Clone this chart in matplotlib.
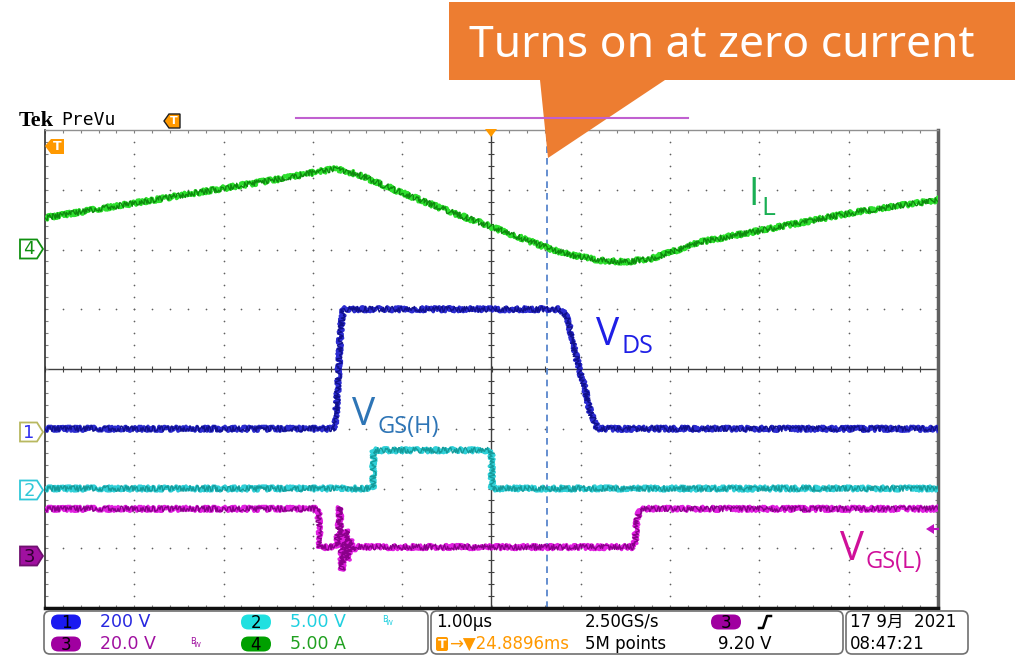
"""
Captura de osciloscopio (Tek PreVu): corrente no indutor, VDS e as
duas tensoes de gate, com o balao "Turns on at zero current".
"""

import numpy as np
import matplotlib.pyplot as plt
from matplotlib.patches import Polygon, FancyBboxPatch

plt.rcParams['font.family'] = ['DejaVu Sans', 'Noto Sans CJK JP']

# ---- dados lidos da tela (tempo em us, 1 us/div, trigger no centro) ----
t_il = [-5.0, -3.5, -2.3, -1.95, -1.75, -1.5, -1.02, -0.46, 0.0, 0.62,
        0.88, 1.22, 1.5, 1.8, 2.34, 4.02, 5.0]
il = [2.65, 4.5, 6.0, 6.5, 6.75, 6.3, 4.8, 3.15, 1.9, 0.15,
      -0.45, -0.9, -1.05, -0.75, 0.63, 3.05, 4.15]            # A

t_vds = [-5.0, -1.75, -1.72, -1.69, -1.66, 0.77, 0.83, 0.885, 0.92,
         0.985, 1.05, 1.11, 1.19, 5.0]
vds = [0, 0, 150, 330, 400, 400, 380, 330, 274, 200, 130, 52, 0, 0]  # V

t_vgsh = [-5.0, -1.33, -1.32, 0.0, 0.005, 5.0]
vgsh = [0, 0, 3.2, 3.2, 0, 0]                                    # V

t_vgsl = [-5.0, -1.94, -1.92, -1.74, -1.71, -1.70, -1.675, -1.62, -1.61,
          -1.58, -1.55, -1.5, 1.6, 1.63, 1.66, 5.0]
vgsl = [15.8, 15.8, 3.0, 3.0, 10.0, 16.4, -4.7, 8.7, -1.3,
        5.4, 2.0, 3.0, 3.0, 12.0, 15.8, 15.8]                    # V

# escala (unidade/div) e posicao do zero (div) de cada canal
ESCALA = {'1': 200.0, '2': 5.0, '3': 20.0, '4': 5.0}
ZERO = {'1': -1.0, '2': -2.0, '3': -3.13, '4': 2.0}

T_ZERO_CORRENTE = 0.616   # linha tracejada (us)

# cores dos canais (claro, escuro)
COR_CH = {
    '1': ('#2C2CD0', '#10108C'),
    '2': ('#30D0D8', '#159A9A'),
    '3': ('#E020E0', '#8A008A'),
    '4': ('#2EE02E', '#0E8A0E'),
}

W, H = 1015, 656
fig = plt.figure(figsize=(W / 100, H / 100), dpi=100)
fig.patch.set_facecolor('white')

# ---- graticula ----
x0, x1, y0, y1 = 45, 938, 130, 608
ax = fig.add_axes([x0 / W, (H - y1) / H, (x1 - x0) / W, (y1 - y0) / H])
ax.set_xlim(-5, 5)
ax.set_ylim(-4, 4)
ax.set_xticks(np.arange(-5, 5.001, 0.2))
ax.set_yticks(np.arange(-4, 4.001, 0.2))
ax.tick_params(direction='in', length=2.5, width=0.8, color='#808080',
               labelbottom=False, labelleft=False, top=True, right=True)
ax.spines['left'].set_color('#303030')
ax.spines['left'].set_linewidth(1.2)
ax.spines['top'].set_color('#909090')
ax.spines['top'].set_linewidth(1.0)
ax.spines['bottom'].set_color('#101010')
ax.spines['bottom'].set_linewidth(2.5)
ax.spines['right'].set_color('#606060')
ax.spines['right'].set_linewidth(2.5)

passo = np.arange(-5, 5.001, 0.2)
passo_y = np.arange(-4, 4.001, 0.2)
for xv in range(-4, 5):
    if xv != 0:
        ax.scatter(np.full(len(passo_y), xv), passo_y, s=1.5, color='#606060', lw=0, zorder=1)
for yv in range(-3, 4):
    if yv != 0:
        ax.scatter(passo, np.full(len(passo), yv), s=1.5, color='#606060', lw=0, zorder=1)

ax.axhline(0, color='#404040', lw=1.0, zorder=1)
ax.axvline(0, color='#404040', lw=1.0, zorder=1)
ax.plot(passo, np.zeros(len(passo)), ls='none', marker='|', ms=5, mew=0.8, color='#404040', zorder=1)
ax.plot(np.zeros(len(passo_y)), passo_y, ls='none', marker='_', ms=5, mew=0.8, color='#404040', zorder=1)

ax.axvline(T_ZERO_CORRENTE, color='#4A7CC8', lw=1.2, ls=(0, (4, 3)), zorder=2)


def desenhar_canal(t, valores, canal):
    """Desenha um traco do osciloscopio na escala do canal."""
    y = ZERO[canal] + np.asarray(valores, dtype=float) / ESCALA[canal]
    claro, escuro = COR_CH[canal]
    (linha_clara,) = ax.plot(t, y, color=claro, lw=2.6, zorder=3)
    linha_clara.set_sketch_params(2.4, 2.0, 5)
    (linha_escura,) = ax.plot(t, y, color=escuro, lw=1.0, zorder=4)
    linha_escura.set_sketch_params(2.8, 1.8, 5)


desenhar_canal(t_il, il, '4')
desenhar_canal(t_vgsl, vgsl, '3')
desenhar_canal(t_vgsh, vgsh, '2')
desenhar_canal(t_vds, vds, '1')

# ---- camada de anotacoes em pixels ----
ov = fig.add_axes([0, 0, 1, 1], zorder=5)
ov.set_xlim(0, W)
ov.set_ylim(H, 0)
ov.axis('off')
ov.patch.set_alpha(0)

# cabecalho Tek
ov.text(19, 126, 'Tek', fontsize=16, fontweight='bold', family='Liberation Serif', va='baseline')
ov.text(61, 125, 'PreVu', fontsize=13, family='DejaVu Sans Mono', va='baseline')
ov.add_patch(Polygon([(164, 121), (169, 114), (180, 114), (180, 128), (169, 128)],
                     closed=True, fc='#FF9900', ec='#202020', lw=1))
ov.text(174, 121.5, 'T', color='white', fontsize=8, fontweight='bold', ha='center', va='center')
ov.plot([296, 688], [118, 118], color='#C060D0', lw=1.5)
ov.add_patch(Polygon([(485, 129), (497, 129), (491, 137)], closed=True, fc='#FF9900', ec='none'))
ov.add_patch(Polygon([(45, 146), (51, 139), (64, 139), (64, 154), (51, 154)],
                     closed=True, fc='#FF9900', ec='none'))
ov.text(57, 146.5, 'T', color='white', fontsize=9, fontweight='bold', ha='center', va='center')

# seta do nivel de trigger (canal 3)
ov.add_patch(Polygon([(926, 529), (934, 524), (934, 534)], closed=True, fc='#C010C0', ec='none'))
ov.plot([932, 938], [529, 529], color='#C010C0', lw=1.5)


def marcador_canal(y, numero, borda, preenchimento, cor_texto):
    ov.add_patch(Polygon([(20, y - 9.5), (37, y - 9.5), (43, y), (37, y + 9.5), (20, y + 9.5)],
                         closed=True, fc=preenchimento, ec=borda, lw=1.3))
    ov.text(29, y + 0.5, numero, color=cor_texto, fontsize=13, ha='center', va='center')


marcador_canal(249, '4', '#109010', 'white', '#109010')
marcador_canal(432, '1', '#B8B860', 'white', '#3030F0')
marcador_canal(490, '2', '#30C8D8', 'white', '#30C8D8')
marcador_canal(556, '3', '#701070', '#A010A0', '#300030')


def rotulo(x, y, principal, sub, cor, tam, tam_sub, dx, dy):
    ov.text(x, y, principal, color=cor, fontsize=tam, family='Open Sans', va='baseline')
    ov.text(x + dx, y + dy, sub, color=cor, fontsize=tam_sub, family='Open Sans', va='baseline')


rotulo(748, 205, 'I', 'L', '#1AAF54', 27, 19, 13, 10)
rotulo(596, 345, 'V', 'DS', '#1F1FE6', 28, 18, 26, 8)
rotulo(352, 425, 'V', 'GS(H)', '#2E75B6', 28, 17, 26, 8)
rotulo(840, 560, 'V', 'GS(L)', '#D0109A', 29, 17, 26, 8)

# balao laranja
ov.add_patch(Polygon([(449, 2), (1015, 2), (1015, 80), (665, 80), (548, 158), (540, 80), (449, 80)],
                     closed=True, fc='#ED7D31', ec='none'))
ov.text(722, 57, 'Turns on at zero current', color='white', fontsize=32, fontweight='light',
        family='Noto Sans', ha='center', va='baseline')

# ---- barra de status ----
for bx0, bx1 in [(44, 428), (431, 843), (846, 968)]:
    ov.add_patch(FancyBboxPatch((bx0, 611), bx1 - bx0, 43,
                                boxstyle='round,pad=0,rounding_size=6',
                                fc='white', ec='#707070', lw=1.2))


def oval(xc, yc, numero, cor):
    ov.add_patch(FancyBboxPatch((xc - 15, yc - 7.5), 30, 15,
                                boxstyle='round,pad=0,rounding_size=7.5', fc=cor, ec='none'))
    ov.text(xc, yc + 0.5, numero, color='black', fontsize=12, ha='center', va='center')


L1, L2 = 622, 644
oval(66, L1, '1', '#1A1AF0')
ov.text(100, L1, '200 V', color='#2828E0', fontsize=12.5, va='center')
oval(256, L1, '2', '#20E0E0')
ov.text(290, L1, '5.00 V', color='#20D0E0', fontsize=12.5, va='center')
ov.text(382, L1 - 2, 'B', color='#20D0E0', fontsize=6, va='center')
ov.text(386, L1 + 1, 'W', color='#20D0E0', fontsize=5, va='center')
oval(66, L2, '3', '#A000A0')
ov.text(100, L2, '20.0 V', color='#A010A0', fontsize=12.5, va='center')
ov.text(190, L2 - 2, 'B', color='#A010A0', fontsize=6, va='center')
ov.text(194, L2 + 1, 'W', color='#A010A0', fontsize=5, va='center')
oval(256, L2, '4', '#00A000')
ov.text(290, L2, '5.00 A', color='#20A020', fontsize=12.5, va='center')

ov.text(436, L1, '1.00µs', color='black', fontsize=12, va='center')
ov.text(585, L1, '2.50GS/s', color='black', fontsize=12, va='center')
oval(726, L1, '3', '#A000A0')
ov.plot([759, 763, 767, 771], [628, 628, 616, 616], color='black', lw=1.8)
ov.add_patch(FancyBboxPatch((436, L2 - 7), 12, 14, boxstyle='round,pad=0,rounding_size=2',
                            fc='#FF9900', ec='none'))
ov.text(442, L2 + 0.5, 'T', color='white', fontsize=9, fontweight='bold', ha='center', va='center')
ov.text(449, L2, '→▼24.8896ms', color='#FF9900', fontsize=12, va='center')
ov.text(585, L2, '5M points', color='black', fontsize=12, va='center')
ov.text(772, L2, '9.20 V', color='black', fontsize=12, va='center', ha='right')

ov.text(850, L1, '17 9月  2021', color='black', fontsize=12, va='center')
ov.text(850, L2, '08:47:21', color='black', fontsize=12, va='center')

fig.savefig('out.png', dpi=100, facecolor='white')
plt.close(fig)
